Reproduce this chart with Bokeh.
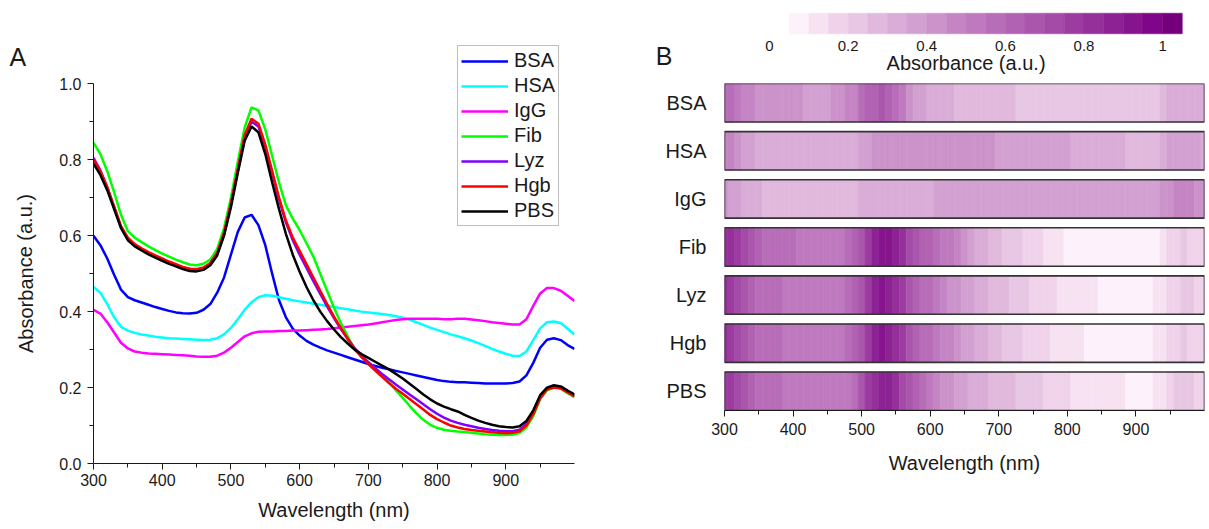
from bokeh.plotting import figure
from bokeh.layouts import row, column
from bokeh.models import (Range1d, FixedTicker, Legend, LegendItem,
                          ColumnDataSource, LinearColorMapper, NumeralTickFormatter)
from bokeh.core.properties import value
from bokeh.transform import transform
from bokeh.embed import file_html
from bokeh.resources import INLINE

# ---------------- data ----------------
wavelength = list(range(300, 1001, 10))

BSA = [.600, .575, .540, .497, .458, .438, .430, .424, .418, .412,
       .407, .402, .398, .396, .395, .397, .405, .420, .450, .490,
       .550, .610, .648, .655, .628, .575, .500, .430, .385, .355,
       .337, .323, .313, .305, .298, .292, .286, .280, .274, .268,
       .262, .257, .252, .248, .244, .240, .236, .232, .228, .224,
       .220, .217, .215, .214, .214, .213, .212, .211, .211, .211,
       .211, .212, .216, .232, .265, .305, .326, .330, .325, .312, .302]

HSA = [.465, .450, .420, .385, .360, .350, .344, .340, .337, .334,
       .332, .330, .329, .328, .327, .326, .325, .326, .330, .340,
       .357, .380, .405, .425, .438, .443, .442, .438, .434, .430,
       .427, .424, .421, .418, .415, .412, .409, .406, .403, .400,
       .398, .396, .394, .391, .388, .384, .379, .372, .365, .358,
       .352, .346, .340, .335, .330, .324, .317, .310, .302, .295,
       .289, .284, .283, .295, .325, .356, .372, .374, .370, .355, .340]

IgG = [.405, .395, .372, .345, .318, .303, .295, .292, .290, .289,
       .288, .287, .286, .285, .284, .282, .281, .281, .284, .292,
       .305, .320, .335, .343, .347, .348, .348, .349, .349, .350,
       .350, .351, .352, .353, .354, .356, .358, .360, .362, .364,
       .366, .369, .372, .375, .378, .380, .381, .381, .381, .381,
       .381, .380, .380, .381, .381, .379, .377, .375, .372, .370,
       .368, .366, .366, .380, .415, .448, .462, .462, .455, .442, .428]

Fib = [.845, .815, .770, .715, .655, .612, .595, .583, .572, .562,
       .553, .545, .537, .530, .524, .522, .526, .537, .565, .620,
       .700, .795, .885, .938, .930, .880, .810, .740, .680, .645,
       .615, .580, .545, .500, .455, .410, .370, .335, .300, .283,
       .266, .249, .232, .213, .193, .173, .152, .132, .115, .102,
       .094, .089, .086, .084, .083, .081, .079, .077, .076, .075,
       .075, .076, .080, .095, .125, .170, .193, .200, .197, .185, .175]

Lyz = [.805, .772, .728, .675, .623, .592, .575, .564, .554, .545,
       .537, .529, .522, .516, .512, .511, .514, .526, .553, .605,
       .683, .772, .860, .900, .888, .835, .765, .695, .635, .588,
       .550, .515, .480, .447, .414, .383, .354, .328, .304, .284,
       .267, .251, .236, .222, .208, .195, .182, .169, .156, .143,
       .131, .121, .113, .107, .102, .098, .094, .091, .088, .086,
       .085, .085, .089, .104, .133, .175, .197, .202, .200, .189, .179]

Hgb = [.800, .770, .728, .677, .625, .595, .578, .567, .557, .548,
       .540, .532, .525, .518, .513, .512, .516, .528, .555, .608,
       .685, .775, .865, .908, .895, .840, .770, .700, .640, .595,
       .560, .525, .490, .455, .420, .387, .357, .328, .302, .280,
       .262, .245, .228, .212, .197, .184, .170, .156, .142, .128,
       .117, .108, .100, .095, .091, .088, .086, .084, .082, .081,
       .080, .081, .085, .100, .130, .172, .195, .200, .198, .187, .177]

PBS = [.790, .760, .720, .670, .620, .588, .572, .561, .551, .542,
       .534, .526, .519, .512, .507, .506, .510, .522, .548, .600,
       .675, .765, .850, .888, .872, .815, .740, .670, .605, .550,
       .505, .465, .430, .400, .375, .353, .333, .316, .300, .288,
       .278, .268, .258, .248, .236, .224, .210, .196, .182, .169,
       .158, .150, .143, .137, .128, .120, .113, .107, .102, .098,
       .096, .095, .098, .112, .140, .180, .200, .206, .203, .192, .182]

names = ["BSA", "HSA", "IgG", "Fib", "Lyz", "Hgb", "PBS"]
series = [BSA, HSA, IgG, Fib, Lyz, Hgb, PBS]
line_colors = ["#0000ff", "#00ffff", "#ff00ff", "#00ff00", "#8000ff", "#ff0000", "#000000"]

x_ticks = [300, 400, 500, 600, 700, 800, 900]
x_minor = [350, 450, 550, 650, 750, 850, 950]
y_ticks = [0.0, 0.2, 0.4, 0.6, 0.8, 1.0]
y_minor = [0.1, 0.3, 0.5, 0.7, 0.9]
cb_ticks = [0, 0.2, 0.4, 0.6, 0.8, 1.0]
cb_tick_labels = ["0", "0.2", "0.4", "0.6", "0.8", "1"]

palette = ["#fdf2fb", "#f7e2f2", "#f0d3eb", "#e8c7e4", "#e0b9dd", "#d9add7",
           "#d3a1d1", "#cb93ca", "#c585c4", "#bf7abf", "#b86db8", "#b162b2",
           "#ab56ad", "#a44ba7", "#9c3ba0", "#952f9a", "#8c2293", "#86158d",
           "#7f0688", "#73007a"]
cb_low, cb_high = 0.05, 1.05

FONT = "Liberation Sans"
TXT = "#1a1a1a"


def style_axis(ax, size="16px"):
    ax.axis_line_color = TXT
    ax.axis_line_width = 1
    ax.major_tick_line_color = TXT
    ax.minor_tick_line_color = TXT
    ax.major_tick_in = 0
    ax.major_tick_out = 6
    ax.minor_tick_in = 0
    ax.minor_tick_out = 4
    ax.major_label_text_font = FONT
    ax.major_label_text_font_size = size
    ax.major_label_text_color = TXT
    ax.axis_label_text_font = FONT
    ax.axis_label_text_font_size = "20px"
    ax.axis_label_text_font_style = "normal"
    ax.axis_label_text_color = TXT


def bare(p):
    p.outline_line_color = None
    p.grid.visible = False
    p.background_fill_color = "white"
    p.border_fill_color = "white"


H = 529
A_TOP, A_BOTTOM = 30, 463          # frame of panel A (pixels from top)

# ---------------- left text strip (panel letter + y title) ----------------
# its frame is aligned with panel A's frame, so the y range is in page pixels
pL = figure(width=40, height=H, x_range=Range1d(0, 40), y_range=Range1d(A_BOTTOM, A_TOP),
            x_axis_type=None, y_axis_type=None, output_backend="svg", toolbar_location=None,
            min_border_left=0, min_border_right=0, min_border_top=A_TOP, min_border_bottom=H - A_BOTTOM)
bare(pL)
pL.text(x=[9], y=[56], text=["A"], text_font=value(FONT), text_font_size="25px",
        text_color=TXT, text_baseline="middle", text_align="left")
pL.text(x=[25], y=[273], text=["Absorbance (a.u.)"], angle=1.5708, text_font=value(FONT),
        text_font_size="20px", text_color=TXT, text_baseline="middle", text_align="center")

# ---------------- panel A ----------------
y_top = 1.0 + (83.3 - A_TOP) / 379.4
pA = figure(width=560, height=H, x_range=Range1d(300, 1000), y_range=Range1d(0, y_top),
            output_backend="svg", toolbar_location=None,
            min_border_left=53, min_border_right=26, min_border_top=A_TOP, min_border_bottom=H - A_BOTTOM)
bare(pA)

items = []
for n, s, c in zip(names, series, line_colors):
    r = pA.line(wavelength, s, line_color=c, line_width=2.5)
    items.append(LegendItem(label=n, renderers=[r]))

style_axis(pA.xaxis[0])
style_axis(pA.yaxis[0])
pA.xaxis.ticker = FixedTicker(ticks=x_ticks, minor_ticks=x_minor)
pA.yaxis.ticker = FixedTicker(ticks=y_ticks, minor_ticks=y_minor)
pA.yaxis.bounds = (0, 1.0)
pA.yaxis.formatter = NumeralTickFormatter(format="0.0")
pA.xaxis.axis_label = "Wavelength (nm)"
pA.xaxis.major_label_standoff = 4
pA.yaxis.major_label_standoff = 6
pA.xaxis.axis_label_standoff = 10

legend = Legend(items=items, location=(364, 237),
                border_line_color="#808080", border_line_width=1,
                background_fill_color="white", background_fill_alpha=1.0,
                label_text_font=FONT, label_text_font_size="20px", label_text_color=TXT,
                glyph_width=47, glyph_height=20, label_height=20, spacing=2,
                padding=3, margin=0, label_standoff=6)
pA.add_layout(legend)

# ---------------- colour bar (frame aligned with panel B frame) ----------------
cb_step = (cb_high - cb_low) / len(palette)
CBH = 78
B_LEFT, B_RIGHT = 124, 5
cb_x0 = (724.3 - 769.3) / 393.4
cb_x1 = (1204.6 - 769.3) / 393.4
pC = figure(width=609, height=CBH, x_range=Range1d(cb_x0, cb_x1), y_range=Range1d(CBH, 0),
            x_axis_type=None, output_backend="svg", toolbar_location=None,
            min_border_left=B_LEFT, min_border_right=B_RIGHT, min_border_top=0, min_border_bottom=0)
bare(pC)
pC.rect(x=[cb_low + (i + 0.5) * cb_step for i in range(len(palette))], y=23,
        width=cb_step, height=20.6, fill_color=palette, line_color=palette, line_width=0.5)
pC.text(x=cb_ticks, y=45, text=cb_tick_labels, text_font=value(FONT), text_font_size="15px",
        text_color=TXT, text_baseline="middle", text_align="center")
pC.text(x=[0.5], y=[62], text=["Absorbance (a.u.)"], text_font=value(FONT), text_font_size="20px",
        text_color=TXT, text_baseline="middle", text_align="center")
cy = pC.yaxis[0]
cy.ticker = FixedTicker(ticks=[], minor_ticks=[])
cy.axis_line_color = None
cy.major_tick_line_color = None
cy.minor_tick_line_color = None
cy.major_tick_out = 0
cy.minor_tick_out = 0
cy.major_label_standoff = 0
cy.major_label_text_font_size = "0px"
cy.axis_label = "\nB"
cy.axis_label_orientation = "horizontal"
cy.axis_label_text_font = FONT
cy.axis_label_text_font_size = "25px"
cy.axis_label_text_font_style = "normal"
cy.axis_label_text_color = TXT
cy.axis_label_standoff = 52

# ---------------- panel B (heat strips) ----------------
nstrip = len(names)
hx, hy, hv = [], [], []
for i, s in enumerate(series):
    for w, v in zip(wavelength, s):
        hx.append(w)
        hy.append(nstrip - 1 - i)
        hv.append(v)
src = ColumnDataSource(dict(x=hx, y=hy, v=hv))
mapper = LinearColorMapper(palette=palette, low=cb_low, high=cb_high,
                           low_color=palette[0], high_color=palette[-1])

pB = figure(width=609, height=H - CBH, x_range=Range1d(300, 1000), y_range=Range1d(-0.4, nstrip - 0.6),
            output_backend="svg", toolbar_location=None,
            min_border_left=B_LEFT, min_border_right=B_RIGHT, min_border_top=5, min_border_bottom=119)
bare(pB)
step = wavelength[1] - wavelength[0]
pB.rect(x="x", y="y", width=step, height=0.8, source=src,
        fill_color=transform("v", mapper), line_color=transform("v", mapper), line_width=0.6)
pB.quad(left=wavelength[0], right=wavelength[-1],
        bottom=[nstrip - 1 - i - 0.4 for i in range(nstrip)],
        top=[nstrip - 1 - i + 0.4 for i in range(nstrip)],
        fill_color=None, line_color="#333333", line_width=1.6)
style_axis(pB.xaxis[0])
pB.xaxis.ticker = FixedTicker(ticks=x_ticks, minor_ticks=x_minor)
pB.xaxis.axis_label = "Wavelength (nm)"
pB.xaxis.major_label_standoff = 6
pB.xaxis.axis_label_standoff = 14
yax = pB.yaxis[0]
style_axis(yax, "20px")
yax.ticker = FixedTicker(ticks=list(range(nstrip)), minor_ticks=[])
yax.major_label_overrides = {nstrip - 1 - i: n for i, n in enumerate(names)}
yax.axis_line_color = None
yax.major_tick_line_color = None
yax.minor_tick_line_color = None
yax.major_tick_out = 0
yax.minor_tick_out = 0
yax.major_label_standoff = 18

layout = row(pL, pA, column(pC, pB))
open("out.html", "w").write(file_html(layout, INLINE))
